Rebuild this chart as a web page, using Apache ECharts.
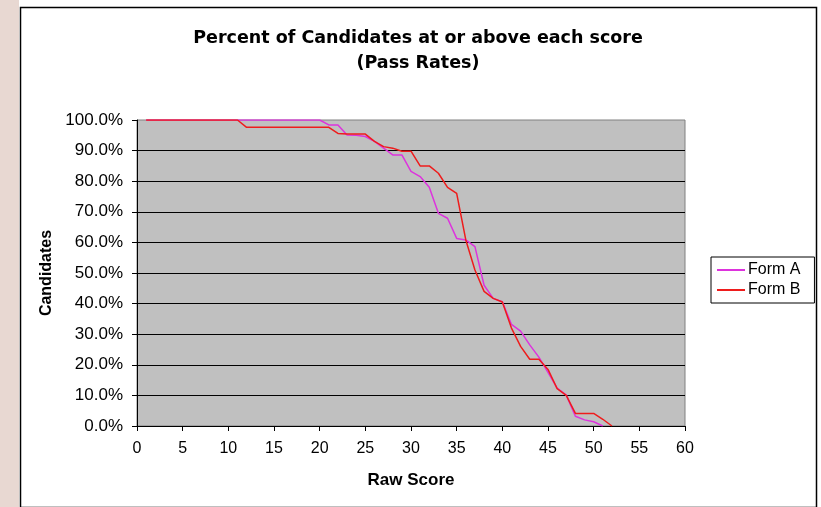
<!DOCTYPE html>
<html>
<head>
<meta charset="utf-8">
<title>Pass Rates</title>
<script src="https://cdn.jsdelivr.net/npm/echarts@6/dist/echarts.min.js"></script>
<style>
  html, body { margin: 0; padding: 0; background: #ffffff; }
  #chart { width: 821px; height: 507px; }
</style>
</head>
<body>
<div id="chart"></div>
<script>
// raw scores
var scores = [1, 2, 3, 4, 5, 6, 7, 8, 9, 10, 11, 12, 13, 14, 15, 16, 17, 18, 19, 20,
  21, 22, 23, 24, 25, 26, 27, 28, 29, 30, 31, 32, 33, 34, 35, 36, 37, 38, 39, 40,
  41, 42, 43, 44, 45, 46, 47, 48, 49, 50, 51, 52];

// percent of candidates at or above each score
var formA = [100, 100, 100, 100, 100, 100, 100, 100, 100, 100, 100, 100, 100, 100, 100, 100, 100, 100, 100, 100,
  98.4, 98.4, 95.1, 95.0, 94.6, 93.0, 90.8, 88.6, 88.6, 83.2, 81.5, 78.0, 69.5, 67.9, 61.3, 60.8, 58.6, 46.0, 41.7, 40.6,
  33.2, 31.0, 26.5, 22.5, 17.5, 12.4, 10.1, 3.2, 2.0, 1.4, 0];
var formB = [100, 100, 100, 100, 100, 100, 100, 100, 100, 100, 100, 97.6, 97.6, 97.6, 97.6, 97.6, 97.6, 97.6, 97.6, 97.6,
  97.6, 95.6, 95.4, 95.4, 95.4, 93.0, 91.3, 90.8, 89.8, 89.8, 85.0, 85.0, 82.6, 78.0, 76.0, 60.8, 51.0, 44.0, 41.7, 40.5,
  32.0, 26.0, 21.8, 21.8, 18.5, 12.2, 10.0, 4.1, 4.1, 4.1, 2.2, 0];

var seriesNames = ['Form A', 'Form B'];
var seriesColors = ['#dd33dd', '#ee1c1c'];

function pairs(values) {
  var arr = [];
  for (var i = 0; i < values.length; i++) {
    arr.push([scores[i], values[i]]);
  }
  return arr;
}

var myChart = echarts.init(document.getElementById('chart'), null, { renderer: 'canvas' });

var option = {
  animation: false,
  backgroundColor: '#ffffff',
  graphic: [
    // pink strip on the far left
    { type: 'rect', z: -10, shape: { x: 0, y: 0, width: 19, height: 507 }, style: { fill: '#e8d8d2' } },
    // chart area border
    { type: 'rect', z: -5, shape: { x: 20.5, y: 7.5, width: 796, height: 500 },
      style: { fill: '#ffffff', stroke: '#000000', lineWidth: 1.5 } }
  ],
  title: {
    text: 'Percent of Candidates at or above each score\n(Pass Rates)',
    left: 418,
    top: 26,
    padding: 0,
    textAlign: 'center',
    textStyle: {
      fontFamily: 'DejaVu Sans',
      fontWeight: 'bold',
      fontSize: 17.5,
      lineHeight: 25,
      color: '#000000'
    }
  },
  legend: {
    data: seriesNames,
    orient: 'vertical',
    left: 711,
    top: 257,
    padding: [5, 14, 5, 6],
    itemGap: 4,
    itemWidth: 28,
    itemHeight: 2,
    icon: 'rect',
    backgroundColor: '#ffffff',
    borderColor: '#000000',
    borderWidth: 1,
    textStyle: { fontFamily: 'Liberation Sans', fontSize: 16, color: '#000000', padding: [0, 0, 0, -2] }
  },
  grid: {
    left: 137,
    top: 120,
    width: 548,
    height: 306,
    show: true,
    backgroundColor: '#c0c0c0',
    borderColor: '#808080',
    borderWidth: 1
  },
  xAxis: {
    type: 'value',
    min: 0,
    max: 60,
    interval: 5,
    name: 'Raw Score',
    nameLocation: 'middle',
    nameGap: 46,
    nameTextStyle: { fontFamily: 'Liberation Sans', fontWeight: 'bold', fontSize: 17, color: '#000000' },
    axisLine: { lineStyle: { color: '#000000', width: 1 } },
    axisTick: { show: true, inside: false, length: 5, lineStyle: { color: '#000000' } },
    axisLabel: { margin: 15, fontFamily: 'Liberation Sans', fontSize: 16, color: '#000000' },
    splitLine: { show: false }
  },
  yAxis: {
    type: 'value',
    min: 0,
    max: 100,
    interval: 10,
    name: 'Candidates',
    nameLocation: 'middle',
    nameGap: 80,
    nameTextStyle: { fontFamily: 'Liberation Sans', fontWeight: 'bold', fontSize: 16, color: '#000000' },
    axisLine: { show: true, lineStyle: { color: '#000000', width: 1 } },
    axisTick: { show: true, inside: false, length: 5, lineStyle: { color: '#000000' } },
    axisLabel: {
      margin: 14,
      fontFamily: 'Liberation Sans',
      fontSize: 17,
      color: '#000000',
      formatter: function (v) { return v.toFixed(1) + '%'; }
    },
    splitLine: { show: true, showMaxLine: false, lineStyle: { color: '#000000', width: 1 } }
  },
  series: [
    {
      name: seriesNames[0],
      type: 'line',
      data: pairs(formA),
      showSymbol: false,
      color: seriesColors[0],
      lineStyle: { width: 1.5, color: seriesColors[0] }
    },
    {
      name: seriesNames[1],
      type: 'line',
      data: pairs(formB),
      showSymbol: false,
      color: seriesColors[1],
      lineStyle: { width: 1.5, color: seriesColors[1] }
    }
  ]
};

myChart.setOption(option);
</script>
</body>
</html>
